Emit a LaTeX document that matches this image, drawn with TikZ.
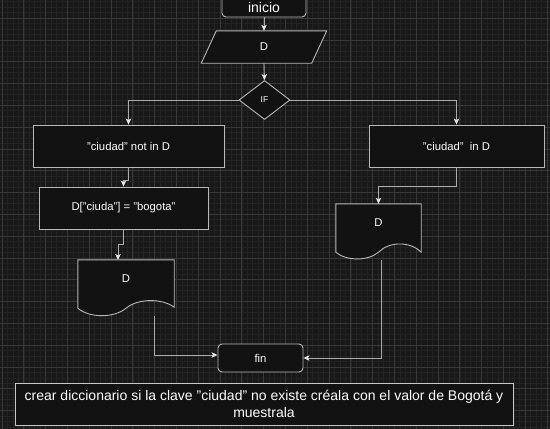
\documentclass[tikz,border=0pt]{standalone}
\usepackage{fontspec}
\setmainfont{Liberation Sans}
\usetikzlibrary{shapes.geometric,arrows.meta,calc}
\definecolor{bgc}{HTML}{181818}
\definecolor{gridminor}{HTML}{232323}
\definecolor{gridmajor}{HTML}{383838}
\definecolor{shapefill}{HTML}{121212}
\definecolor{strokec}{HTML}{B8B8B8}
\definecolor{notestroke}{HTML}{C8C8C8}
\definecolor{linec}{HTML}{ACACAC}
\definecolor{tipc}{HTML}{E6E6E6}
\begin{document}
\begin{tikzpicture}[x=1pt,y=-1pt,
  txt/.style={text=white,font=\fontsize{11.3}{13}\selectfont},
  procbox/.style={draw=strokec,fill=shapefill,line width=0.9pt,minimum height=42pt,inner sep=0pt,txt},
  termbox/.style={procbox,rounded corners=4pt},
  ghost/.style={draw=none,inner sep=0pt},
  outline/.style={draw=strokec,fill=shapefill,line width=0.9pt},
  conn/.style={draw=linec,line width=0.9pt,-{Stealth[length=6pt,width=5.5pt,inset=1.5pt,color=tipc,fill=tipc]}}]
\useasboundingbox (0,0) rectangle (550,429);
\fill[bgc] (0,0) rectangle (550,429);
\foreach \i in {0,...,100} \draw[gridminor,line width=0.6pt] ({2+5.45*\i},0) -- ({2+5.45*\i},429);
\foreach \i in {-4,...,80} \draw[gridminor,line width=0.6pt] (0,{18.1+5.45*\i}) -- (550,{18.1+5.45*\i});
\foreach \i in {0,...,25} \draw[gridmajor,line width=0.7pt] ({2+21.8*\i},0) -- ({2+21.8*\i},429);
\foreach \i in {-1,...,19} \draw[gridmajor,line width=0.7pt] (0,{18.1+21.8*\i}) -- (550,{18.1+21.8*\i});

% inicio
\node[termbox,minimum width=84pt,minimum height=40pt] (inicio) at (264,-3) {};
\node[txt,font=\fontsize{14}{16}\selectfont] (iniciotxt) at (264,7) {inicio};

% D parallelogram
\node[ghost,minimum width=110pt,minimum height=32pt] (Dn) at (264,47) {};
\draw[outline] ([xshift=7.5pt]Dn.north west) -- ([xshift=7.5pt]Dn.north east) -- ([xshift=-7.5pt]Dn.south east) -- ([xshift=-7.5pt]Dn.south west) -- cycle;
\node[txt] (Dtxt) at (Dn.center) {D};

% IF diamond
\node[diamond,draw=strokec,fill=shapefill,line width=0.9pt,minimum width=51pt,minimum height=39pt,inner sep=0pt,text=white,font=\fontsize{8.5}{10}\selectfont] (IF) at (264.5,100) {IF};

% boxes
\node[procbox,minimum width=191pt] (b1) at (128.5,146) {"ciudad" not in D};
\node[procbox,minimum width=175pt] (b3) at (456.5,146) {"ciudad"\ \ in D};
\node[procbox,minimum width=169pt] (b2) at (123.5,208) {D["ciuda"] = "bogota"};

% documents
\node[ghost,minimum width=96pt,minimum height=48pt] (d1) at (126,284) {};
\draw[outline] (d1.south west) -- (d1.north west) -- (d1.north east) -- ([yshift=1pt]d1.south east)
  .. controls ($(d1.south west)!0.875!(d1.south east)+(0,-10)$) and ($(d1.south west)!0.625!(d1.south east)+(0,-10)$) .. (d1.south)
  .. controls ($(d1.south west)!0.375!(d1.south east)+(0,10)$) and ($(d1.south west)!0.125!(d1.south east)+(0,10)$) .. (d1.south west) -- cycle;
\node[txt] (d1txt) at (126,279) {D};

\node[ghost,minimum width=85pt,minimum height=48pt] (d2) at (378.5,228) {};
\draw[outline] (d2.south west) -- (d2.north west) -- (d2.north east) -- (d2.south east)
  .. controls ($(d2.south west)!0.875!(d2.south east)+(0,-11)$) and ($(d2.south west)!0.625!(d2.south east)+(0,-11)$) .. (d2.south)
  .. controls ($(d2.south west)!0.375!(d2.south east)+(0,9)$) and ($(d2.south west)!0.125!(d2.south east)+(0,9)$) .. (d2.south west) -- cycle;
\node[txt] (d2txt) at (378.5,223) {D};

% fin
\node[termbox,minimum width=85pt,minimum height=28pt] (fin) at (260.5,358) {fin};

% note
\node[draw=notestroke,fill=shapefill,line width=0.9pt,minimum width=498pt,minimum height=42pt,inner sep=0pt,text=white,align=center,font=\fontsize{14}{17}\selectfont] (note) at (264,404) {crear diccionario si la clave "ciudad" no existe créala con el valor de Bogotá y\\muestrala};

% coordinates for connector ends
\coordinate (d1in) at (118,260);
\coordinate (d1out) at (154,316);
\coordinate (finw) at ([yshift=3pt]fin.west);
\coordinate (d2out) at (381,260);

% connectors
\draw[conn] (inicio.south) -- (Dn.north);
\draw[conn] (Dn.south) -- (IF.north);
\draw[conn] (IF.west) -| (b1.north);
\draw[conn] (IF.east) -| (b3.north);
\draw[conn] (b1.south) -- ++(0,13) -| (b2.north);
\draw[conn] (b2.south) -- ++(0,15) -| (d1in);
\draw[conn] (b3.south) -- ++(0,19) -| (d2.north);
\draw[conn] (d1out) |- (finw);
\draw[conn] (d2out) |- (fin.east);
\end{tikzpicture}
\end{document}
